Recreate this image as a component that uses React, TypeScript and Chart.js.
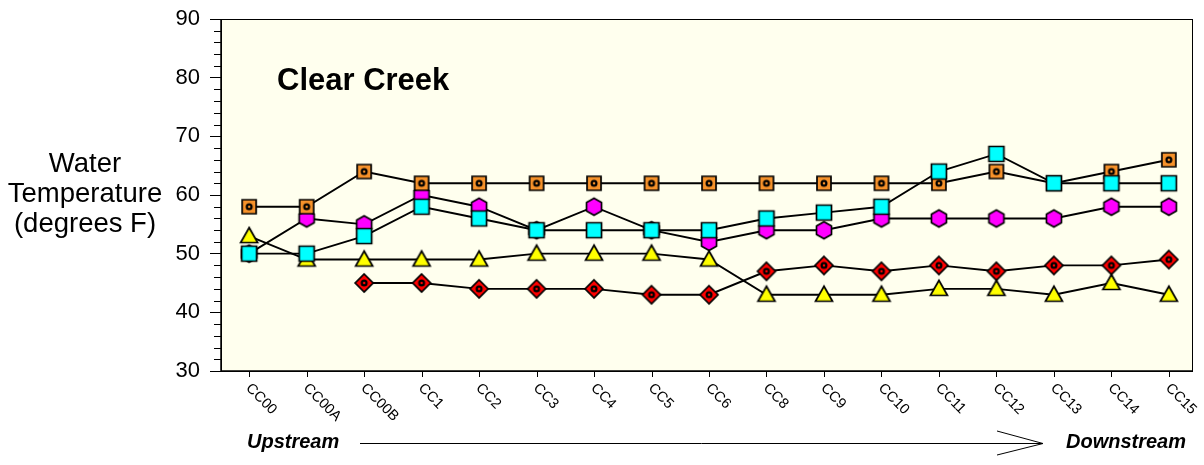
import React, { useEffect, useRef } from "react";
import { Chart, registerables } from "chart.js";

Chart.register(...registerables);

const categories = ["CC00", "CC00A", "CC00B", "CC1", "CC2", "CC3", "CC4", "CC5", "CC6", "CC8", "CC9", "CC10", "CC11", "CC12", "CC13", "CC14", "CC15"];
const cyanValues = [50, 50, 53, 58, 56, 54, 54, 54, 54, 56, 57, 58, 64, 67, 62, 62, 62];
const orangeValues = [58, 58, 64, 62, 62, 62, 62, 62, 62, 62, 62, 62, 62, 64, 62, 64, 66];
const yellowValues = [53, 49, 49, 49, 49, 50, 50, 50, 49, 43, 43, 43, 44, 44, 43, 45, 43];
const magentaValues = [50, 56, 55, 60, 58, 54, 58, 54, 52, 54, 54, 56, 56, 56, 56, 58, 58];
const redValues: (number | null)[] = [null, null, 45, 45, 44, 44, 44, 43, 43, 47, 48, 47, 48, 47, 48, 48, 49];
const yMin = 30;
const yMax = 90;
const yMajorStep = 10;
const yMinorStep = 2;
const titleText = "Clear Creek";
const yTitleLines = ["Water", "Temperature", "(degrees F)"];
const upstreamText = "Upstream";
const downstreamText = "Downstream";

const FONT = '"Liberation Sans", Arial, Helvetica, sans-serif';

function makeMarker(shape: string, fill: string, ring: boolean): HTMLCanvasElement {
  const size = 24;
  const c = document.createElement("canvas");
  c.width = size;
  c.height = size;
  const ctx = c.getContext("2d")!;
  const m = size / 2;
  ctx.fillStyle = fill;
  ctx.strokeStyle = "#000";
  ctx.lineWidth = 1.7;
  ctx.lineJoin = "miter";
  ctx.beginPath();
  if (shape === "square") {
    ctx.rect(m - 7.5, m - 7.5, 15, 15);
  } else if (shape === "smallsquare") {
    ctx.rect(m - 7, m - 7, 14, 14);
  } else if (shape === "triangle") {
    ctx.moveTo(m, m - 8.5);
    ctx.lineTo(m + 8.5, m + 6.5);
    ctx.lineTo(m - 8.5, m + 6.5);
  } else if (shape === "hexagon") {
    ctx.moveTo(m, m - 8.5);
    ctx.lineTo(m + 7.5, m - 4.3);
    ctx.lineTo(m + 7.5, m + 4.3);
    ctx.lineTo(m, m + 8.5);
    ctx.lineTo(m - 7.5, m + 4.3);
    ctx.lineTo(m - 7.5, m - 4.3);
  } else if (shape === "diamond") {
    ctx.moveTo(m, m - 9);
    ctx.lineTo(m + 9, m);
    ctx.lineTo(m, m + 9);
    ctx.lineTo(m - 9, m);
  }
  ctx.closePath();
  ctx.fill();
  ctx.stroke();
  if (ring) {
    ctx.beginPath();
    ctx.arc(m, m, 2.4, 0, Math.PI * 2);
    ctx.lineWidth = 2.2;
    ctx.stroke();
  }
  return c;
}

const decorPlugin = {
  id: "decor",
  beforeDraw(chart: any) {
    const { ctx, chartArea } = chart;
    ctx.save();
    ctx.fillStyle = "#FFFFEE";
    ctx.fillRect(chartArea.left, chartArea.top, chartArea.right - chartArea.left, chartArea.bottom - chartArea.top);
    ctx.restore();
  },
  afterDraw(chart: any) {
    const { ctx, chartArea } = chart;
    const xs = chart.scales.x;
    const ys = chart.scales.y;
    ctx.save();
    ctx.strokeStyle = "#000";
    ctx.lineWidth = 1;
    ctx.strokeRect(chartArea.left + 0.5, chartArea.top + 0.5, chartArea.right - chartArea.left - 1, chartArea.bottom - chartArea.top);
    ctx.lineWidth = 1.5;
    ctx.beginPath();
    ctx.moveTo(chartArea.left, chartArea.top);
    ctx.lineTo(chartArea.left, chartArea.bottom);
    ctx.lineTo(chartArea.right, chartArea.bottom);
    ctx.stroke();
    ctx.lineWidth = 1;
    ctx.beginPath();
    for (let v = yMin; v <= yMax; v += yMinorStep) {
      if (v % yMajorStep === 0) continue;
      const y = Math.round(ys.getPixelForValue(v)) + 0.5;
      ctx.moveTo(chartArea.left - 7, y);
      ctx.lineTo(chartArea.left, y);
    }
    ctx.stroke();
    ctx.beginPath();
    categories.forEach((_, i) => {
      const x = Math.round(xs.getPixelForValue(i)) + 0.5;
      ctx.moveTo(x, chartArea.bottom);
      ctx.lineTo(x, chartArea.bottom + 6);
    });
    ctx.stroke();
    ctx.fillStyle = "#000";
    ctx.font = `14.5px ${FONT}`;
    ctx.textAlign = "left";
    ctx.textBaseline = "middle";
    categories.forEach((label, i) => {
      const x = xs.getPixelForValue(i);
      ctx.save();
      ctx.translate(x - 1, chartArea.bottom + 15);
      ctx.rotate(Math.PI / 4);
      ctx.fillText(label, 0, 0);
      ctx.restore();
    });
    ctx.textBaseline = "alphabetic";
    ctx.font = `bold 31px ${FONT}`;
    ctx.fillText(titleText, 277, 90);
    ctx.font = `27.5px ${FONT}`;
    ctx.textAlign = "center";
    yTitleLines.forEach((line, i) => {
      ctx.fillText(line, 85, 172 + i * 30);
    });
    ctx.font = `italic bold 20px ${FONT}`;
    ctx.textAlign = "left";
    ctx.fillText(upstreamText, 247, 448);
    ctx.fillText(downstreamText, 1066, 448);
    ctx.lineWidth = 1;
    ctx.beginPath();
    ctx.moveTo(360, 443.5);
    ctx.lineTo(1043, 443.5);
    ctx.moveTo(997, 431);
    ctx.lineTo(1043, 443.5);
    ctx.lineTo(997, 455);
    ctx.stroke();
    ctx.restore();
  },
};

export default function App() {
  const ref = useRef<HTMLCanvasElement | null>(null);
  useEffect(() => {
    if (!ref.current) return;
    const toPts = (arr: (number | null)[]) => arr.map((v, i) => ({ x: i, y: v }));
    const mk = (label: string, values: (number | null)[], marker: HTMLCanvasElement) => ({
      label,
      data: toPts(values),
      borderColor: "#000",
      borderWidth: 1.9,
      pointStyle: marker,
      pointRadius: 9,
      pointHoverRadius: 9,
      tension: 0,
      spanGaps: false,
      fill: false,
    });
    const chart = new Chart(ref.current, {
      type: "line",
      data: {
        datasets: [
          mk("Cyan", cyanValues, makeMarker("square", "#00FFFF", false)),
          mk("Orange", orangeValues, makeMarker("smallsquare", "#F7922A", true)),
          mk("Yellow", yellowValues, makeMarker("triangle", "#FFFF00", false)),
          mk("Magenta", magentaValues, makeMarker("hexagon", "#FF00FF", false)),
          mk("Red", redValues, makeMarker("diamond", "#FF0000", true)),
        ] as any,
      },
      options: {
        animation: false,
        responsive: false,
        maintainAspectRatio: false,
        layout: { padding: { top: 19, right: 11, left: 0, bottom: 0 } },
        plugins: { legend: { display: false }, tooltip: { enabled: false }, title: { display: false } },
        scales: {
          x: {
            type: "linear",
            min: -0.49,
            max: 16.42,
            ticks: { display: false, stepSize: 1 },
            grid: { display: false },
            border: { display: false },
            afterFit: (s: any) => {
              s.height = 94;
              s.paddingLeft = 0;
              s.paddingRight = 0;
            },
          },
          y: {
            min: yMin,
            max: yMax,
            ticks: {
              stepSize: yMajorStep,
              color: "#000",
              font: { family: FONT, size: 22 },
              padding: 10,
            },
            grid: { display: true, drawOnChartArea: false, drawTicks: true, tickLength: 11, color: "#000", lineWidth: 1 },
            border: { display: false },
            afterFit: (s: any) => {
              s.width = 221;
              s.paddingTop = 0;
              s.paddingBottom = 0;
            },
          },
        },
      } as any,
      plugins: [decorPlugin],
    });
    return () => chart.destroy();
  }, []);
  return (
    <div style={{ position: "fixed", left: 0, top: 0, width: 1204, height: 465, background: "#fff" }}>
      <canvas ref={ref} width={1204} height={465} style={{ width: 1204, height: 465 }} />
    </div>
  );
}
